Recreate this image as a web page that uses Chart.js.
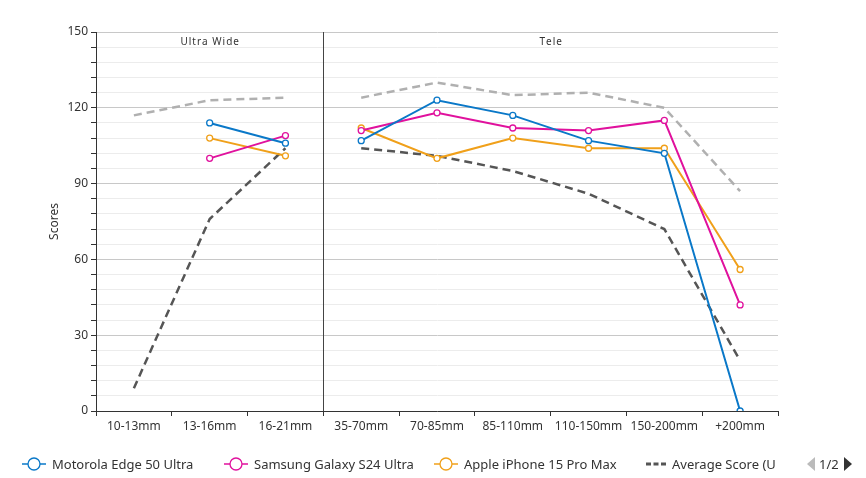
<!DOCTYPE html>
<html>
<head>
<meta charset="utf-8">
<script src="https://cdn.jsdelivr.net/npm/chart.js@4.4.1/dist/chart.umd.min.js"></script>
<style>
  body { margin: 0; background: #fff; font-family: "Noto Sans", sans-serif; }
  .chart-container { position: relative; width: 866px; height: 478px; }
  .chart-legend { position: absolute; left: 0; top: 452px; width: 776px; height: 24px; overflow: hidden; }
  .legend-item { position: absolute; top: 0; display: flex; align-items: center; height: 24px; white-space: nowrap; font-size: 13px; color: #333; }
  .legend-item svg { margin-right: 6px; }
  .legend-pager { position: absolute; left: 806px; top: 452px; height: 24px; display: flex; align-items: center; font-size: 13px; color: #333; }
  .legend-pager span { margin: 0 4px 0 3px; }
</style>
</head>
<body>
<div class="chart-container">
  <canvas id="score-chart" width="866" height="478"></canvas>
</div>
<script>
// Dados do gráfico
const categories = ['10-13mm', '13-16mm', '16-21mm', '35-70mm', '70-85mm', '85-110mm', '110-150mm', '150-200mm', '+200mm'];
const groupNames = ['Ultra Wide', 'Tele'];
const groupStarts = [0, 3];
const motorola = [null, 114, 106, 107, 123, 117, 107, 102, 0];
const samsung = [null, 100, 109, 111, 118, 112, 111, 115, 42];
const apple = [null, 108, 101, 112, 100, 108, 104, 104, 56];
const averageScore = [9, 76, 104, 104, 101, 95, 86, 72, 20];
const bestScore = [117, 123, 124, 124, 130, 125, 126, 120, 87];
const yTicks = [];
for (let v = 0; v <= 150; v += 6) yTicks.push(v);

// cores
const colors = {
  motorola: '#0a78c8',
  samsung: '#e0119d',
  apple: '#f0a01a',
  average: '#555555',
  best: '#b0b0b0'
};

// corta a linha entre os grupos
const gapSegment = {
  borderColor: ctx => groupStarts.includes(ctx.p1DataIndex) ? 'rgba(0,0,0,0)' : undefined
};

function pointSeries(label, data, color) {
  return {
    label: label,
    data: data,
    borderColor: color,
    backgroundColor: color,
    borderWidth: 2,
    pointRadius: 3,
    pointHoverRadius: 3,
    pointBorderWidth: 1.3,
    pointBackgroundColor: '#fff',
    pointBorderColor: color,
    segment: gapSegment,
    tension: 0
  };
}

function dashedSeries(label, data, color, inLegend) {
  return {
    label: label,
    data: data,
    borderColor: color,
    backgroundColor: color,
    borderWidth: 2.5,
    borderDash: [8, 5],
    pointRadius: 0,
    segment: gapSegment,
    inLegend: inLegend,
    tension: 0
  };
}

// linha separadora e nomes dos grupos
const groupPlugin = {
  id: 'groups',
  beforeDatasetsDraw(chart) {
    const { ctx, chartArea, scales } = chart;
    const x = scales.x;
    ctx.save();
    ctx.strokeStyle = '#444';
    ctx.lineWidth = 1;
    groupStarts.slice(1).forEach(i => {
      const px = Math.round(x.getPixelForValue(i - 0.5)) + 0.5;
      ctx.beginPath();
      ctx.moveTo(px, chartArea.top);
      ctx.lineTo(px, chartArea.bottom);
      ctx.stroke();
    });
    ctx.fillStyle = '#333';
    ctx.font = '10px "Noto Sans"';
    ctx.textAlign = 'center';
    ctx.textBaseline = 'middle';
    groupNames.forEach((name, g) => {
      const from = x.getPixelForValue(groupStarts[g] - 0.5);
      const end = g + 1 < groupStarts.length ? groupStarts[g + 1] - 0.5 : categories.length - 0.5;
      const to = x.getPixelForValue(end);
      ctx.fillText(name.split('').join(String.fromCharCode(8202)), (from + to) / 2, chartArea.top + 10);
    });
    ctx.restore();
  }
};

Chart.defaults.font.family = '"Noto Sans", sans-serif';
Chart.defaults.color = '#333';

const chart = new Chart(document.getElementById('score-chart'), {
  type: 'line',
  data: {
    labels: categories,
    datasets: [
      pointSeries('Motorola Edge 50 Ultra', motorola, colors.motorola),
      pointSeries('Samsung Galaxy S24 Ultra', samsung, colors.samsung),
      pointSeries('Apple iPhone 15 Pro Max', apple, colors.apple),
      dashedSeries('Average Score (Ultra-Premium)', averageScore, colors.average, true),
      dashedSeries('Best Score', bestScore, colors.best, false)
    ]
  },
  options: {
    responsive: false,
    animation: false,
    spanGaps: false,
    layout: { padding: { left: 0, top: 32, right: 88, bottom: 37 } },
    plugins: {
      legend: { display: false },
      tooltip: { enabled: false }
    },
    scales: {
      x: {
        offset: true,
        afterFit: s => { s.height = 30; },
        grid: { offset: true, drawOnChartArea: false, tickLength: 5, tickColor: '#333' },
        border: { color: '#333' },
        ticks: { font: { size: 12 }, color: '#333', padding: 3, maxRotation: 0 }
      },
      y: {
        min: 0,
        max: 150,
        afterFit: s => { s.width = 96; },
        afterBuildTicks: s => { s.ticks = yTicks.map(v => ({ value: v })); },
        grid: {
          color: ctx => ctx.tick && ctx.tick.value % 30 === 0 ? '#c8c8c8' : '#ececec',
          tickColor: '#333',
          tickLength: 5
        },
        border: { color: '#333' },
        ticks: {
          autoSkip: false,
          font: { size: 12 },
          color: '#333',
          padding: 3,
          callback: v => v % 30 === 0 ? v : ''
        },
        title: { display: true, text: 'Scores', font: { size: 12 }, color: '#333', padding: { top: 47, bottom: 0 } }
      }
    }
  },
  plugins: [groupPlugin]
});

// legenda personalizada
function iconFor(ds) {
  if (ds.pointRadius > 0) {
    return '<svg width="24" height="14"><line x1="0" y1="7" x2="24" y2="7" stroke="' + ds.borderColor + '" stroke-width="1.5"/>' +
      '<circle cx="12" cy="7" r="6" fill="#fff" stroke="' + ds.borderColor + '" stroke-width="1.3"/></svg>';
  }
  return '<svg width="20" height="14"><line x1="0" y1="7" x2="20" y2="7" stroke="' + ds.borderColor + '" stroke-width="3" stroke-dasharray="5,2.5"/></svg>';
}

function createCustomLegend() {
  const legendContainer = document.createElement('div');
  legendContainer.className = 'chart-legend';
  const starts = [22, 224, 434, 646];
  chart.data.datasets.filter(ds => ds.inLegend !== false).forEach((ds, i) => {
    const item = document.createElement('div');
    item.className = 'legend-item';
    item.style.left = starts[i] + 'px';
    item.innerHTML = iconFor(ds) + '<span>' + ds.label + '</span>';
    legendContainer.appendChild(item);
  });
  const pager = document.createElement('div');
  pager.className = 'legend-pager';
  pager.innerHTML = '<svg width="10" height="14"><polygon points="9,0 9,14 1,7" fill="#bbb"/></svg>' +
    '<span>1/2</span><svg width="10" height="14"><polygon points="1,0 1,14 9,7" fill="#333"/></svg>';
  const container = document.querySelector('.chart-container');
  container.appendChild(legendContainer);
  container.appendChild(pager);
}

createCustomLegend();
</script>
</body>
</html>
